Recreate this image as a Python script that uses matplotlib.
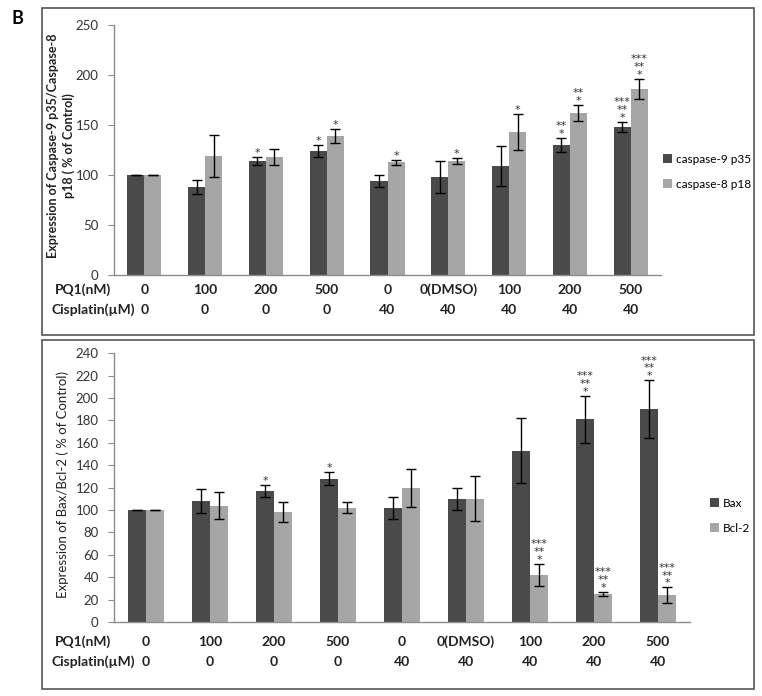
import numpy as np
import matplotlib
matplotlib.use("Agg")
import matplotlib.pyplot as plt
from matplotlib.patches import Rectangle
from matplotlib.transforms import blended_transform_factory

plt.rcParams['font.family'] = ['Lato', 'DejaVu Sans']

W, H = 762, 696

PQ1_LABELS = ['0', '100', '200', '500', '0', '0(DMSO)', '100', '200', '500']
CIS_LABELS = ['0', '0', '0', '0', '40', '40', '40', '40', '40']

# panel 1: caspases
CASP9 = [100, 88, 114, 124, 94, 98, 109, 130, 148]
CASP9_ERR = [0.4, 7, 4, 6, 6, 16, 20, 7, 5]
CASP9_STARS = [0, 0, 1, 1, 0, 0, 0, 2, 3]
CASP8 = [100, 119, 118, 139, 113, 114, 143, 162, 186]
CASP8_ERR = [0.4, 21, 8, 7, 2.5, 3, 18, 8, 10]
CASP8_STARS = [0, 0, 0, 1, 1, 1, 1, 2, 3]

# panel 2: Bax / Bcl-2
BAX = [100, 108, 117, 128, 102, 110, 153, 181, 190]
BAX_ERR = [0.4, 11, 5, 6, 10, 10, 29, 21, 26]
BAX_STARS = [0, 0, 1, 1, 0, 0, 0, 3, 3]
BCL2 = [100, 104, 98, 102, 120, 110, 42, 25, 24]
BCL2_ERR = [0.4, 12, 9, 5, 17, 20, 10, 2, 7]
BCL2_STARS = [0, 0, 0, 0, 0, 0, 3, 3, 3]

DARK = '#4a4a4a'
LIGHT = '#a6a6a6'
AXIS_GRAY = '#8c8c8c'


def fx(px):
    return px / W


def fy(py):
    return 1 - py / H


def add_stars(ax, x, top, n):
    """Stack asterisks above the error bar: '*' at bottom, '***' on top."""
    if n == 0:
        return
    txt = '\n'.join('*' * k for k in range(n, 0, -1))
    ax.annotate(txt, xy=(x, top), xytext=(0, -1),
                textcoords='offset pixels', ha='center', va='bottom',
                multialignment='center', linespacing=0.72,
                fontsize=8, family='DejaVu Sans', color='#333333')


def draw_panel(fig, rect, s1, e1, st1, s2, e2, st2, names, ylim, yticks,
               row_y, legend_xy):
    ax = fig.add_axes(rect)
    x = np.arange(len(s1))
    w = 0.28
    ax.bar(x - w / 2, s1, w, color=DARK, label=names[0], zorder=2)
    ax.bar(x + w / 2, s2, w, color=LIGHT, label=names[1], zorder=2)
    ax.errorbar(x - w / 2, s1, yerr=e1, fmt='none', ecolor='black',
                elinewidth=1, capsize=3.5, capthick=1, zorder=3)
    ax.errorbar(x + w / 2, s2, yerr=e2, fmt='none', ecolor='black',
                elinewidth=1, capsize=3.5, capthick=1, zorder=3)
    for i in range(len(x)):
        add_stars(ax, x[i] - w / 2, s1[i] + e1[i], st1[i])
        add_stars(ax, x[i] + w / 2, s2[i] + e2[i], st2[i])

    ax.set_xlim(-0.5, len(x) - 0.5)
    ax.set_ylim(*ylim)
    ax.set_yticks(yticks)
    ax.set_xticks([])
    for side in ['top', 'right']:
        ax.spines[side].set_visible(False)
    for side in ['left', 'bottom']:
        ax.spines[side].set_color(AXIS_GRAY)
        ax.spines[side].set_linewidth(1)
    ax.tick_params(axis='y', length=4, color=AXIS_GRAY, labelsize=9.5,
                   labelcolor='#333333', pad=7)

    # category rows below the axis
    tr = blended_transform_factory(ax.transData, fig.transFigure)
    for i in range(len(x)):
        ax.text(x[i], fy(row_y[0]), PQ1_LABELS[i], transform=tr, ha='center',
                va='center', fontsize=10, fontweight='bold', color='#222222')
        ax.text(x[i], fy(row_y[1]), CIS_LABELS[i], transform=tr, ha='center',
                va='center', fontsize=10, fontweight='bold', color='#222222')
    fig.text(fx(55), fy(row_y[0]), 'PQ1(nM)', ha='left', va='center',
             fontsize=10, fontweight='bold', color='#222222')
    fig.text(fx(51), fy(row_y[1]), 'Cisplatin(\u00b5M)', ha='left', va='center',
             fontsize=10, fontweight='bold', color='#222222')

    ax.legend(loc='upper left', bbox_to_anchor=legend_xy,
              bbox_transform=fig.transFigure, frameon=False, fontsize=8.5,
              handlelength=0.75, handleheight=0.75, handletextpad=0.35,
              labelspacing=1.2, borderaxespad=0)
    return ax


fig = plt.figure(figsize=(W / 100, H / 100), dpi=100)

# frames around each panel
fig.add_artist(Rectangle((fx(42), fy(335)), fx(754 - 42), (335 - 8) / H,
                         transform=fig.transFigure, fill=False,
                         ec='#555555', lw=1.2))
fig.add_artist(Rectangle((fx(42), fy(689)), fx(754 - 42), (689 - 340) / H,
                         transform=fig.transFigure, fill=False,
                         ec='#555555', lw=1.2))

fig.text(fx(17), fy(19), 'B', ha='center', va='center', fontsize=13,
         fontweight='bold')

draw_panel(fig, [fx(114), fy(275), fx(661 - 114), 250 / H],
           CASP9, CASP9_ERR, CASP9_STARS, CASP8, CASP8_ERR, CASP8_STARS,
           ['caspase-9 p35', 'caspase-8 p18'], (0, 250), np.arange(0, 251, 50),
           (290, 310), (fx(658), fy(149)))
fig.text(fx(61), fy(146), 'Expression of Caspase-9 p35/Caspase-8\np18 ( % of Control)',
         rotation=90, ha='center', va='center', fontsize=9, fontweight='bold',
         linespacing=1.25, color='#222222')

draw_panel(fig, [fx(114), fy(622), fx(690 - 114), (622 - 353.3) / H],
           BAX, BAX_ERR, BAX_STARS, BCL2, BCL2_ERR, BCL2_STARS,
           ['Bax', 'Bcl-2'], (0, 240), np.arange(0, 241, 20),
           (642, 662), (fx(705), fy(493)))
fig.text(fx(63), fy(484), 'Expression of Bax/Bcl-2 ( % of Control)',
         rotation=90, ha='center', va='center', fontsize=9.5, color='#222222')

fig.savefig('out.png', dpi=100)
